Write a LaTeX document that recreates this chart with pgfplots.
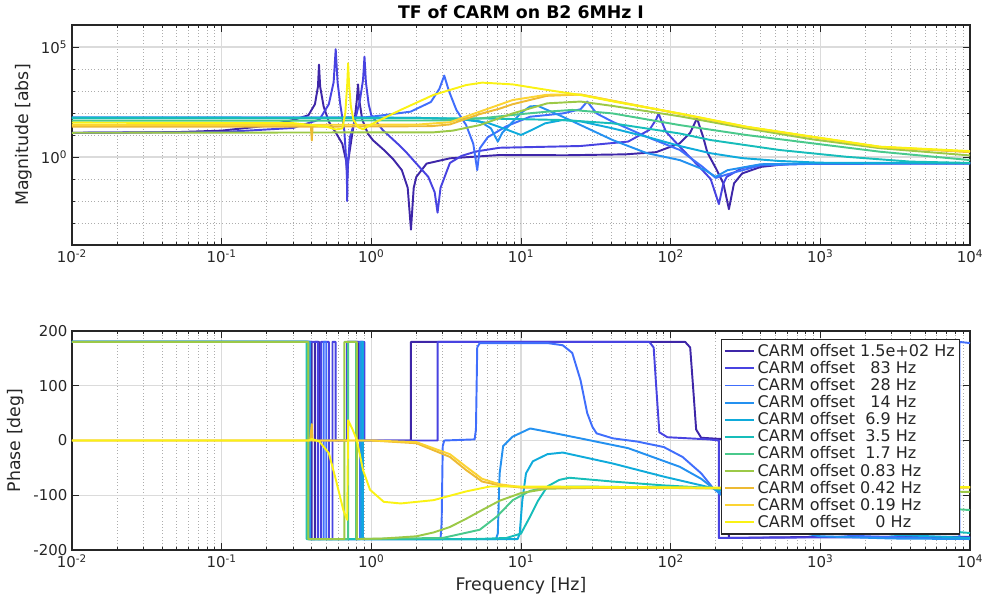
\documentclass[border=0pt]{standalone}
\usepackage{fontspec}
\setmainfont{DejaVu Sans}
\usepackage{pgfplots}
\pgfplotsset{compat=1.18}
\definecolor{cA}{rgb}{0.2422,0.1504,0.6603}
\definecolor{cB}{rgb}{0.2810,0.2630,0.8840}
\definecolor{cC}{rgb}{0.2500,0.4300,0.9900}
\definecolor{cD}{rgb}{0.1400,0.5700,0.9400}
\definecolor{cE}{rgb}{0.0600,0.6700,0.8600}
\definecolor{cF}{rgb}{0.0900,0.7400,0.7300}
\definecolor{cG}{rgb}{0.2900,0.7900,0.5500}
\definecolor{cH}{rgb}{0.6100,0.7900,0.2800}
\definecolor{cI}{rgb}{0.9300,0.7300,0.2000}
\definecolor{cJ}{rgb}{0.9900,0.8300,0.2000}
\definecolor{cK}{rgb}{0.9800,0.9500,0.0800}
\definecolor{axcol}{rgb}{0.15,0.15,0.15}
\pgfplotsset{
  every axis/.append style={
    scale only axis, width=673.5pt,
    xmin=1e-2, xmax=1e4,
    grid=both,
    major grid style={draw=black!14, line width=0.9pt},
    minor grid style={draw=black!32, dotted, line width=0.6pt},
    tick align=inside,
    major tick length=5pt, minor tick length=2.5pt,
    axis line style={draw=axcol, line width=0.9pt},
    tick style={draw=axcol, line width=0.6pt},
    ticklabel style={font=\fontsize{11.2}{13}\selectfont, text=axcol},
    label style={font=\fontsize{13}{15}\selectfont, text=axcol},
  },
  every axis plot post/.append style={line width=1.45pt, line join=round},
}
\begin{document}
\begin{tikzpicture}
\useasboundingbox (0,0) rectangle (738.75pt,449.25pt);
% ---------------- magnitude ----------------
\begin{axis}[xmode=log, ymode=log, at={(54pt,265.5pt)}, anchor=south west, height=165pt,
  xtick={1e-2,1e-1,1,1e1,1e2,1e3,1e4},
  xticklabels={10\textsuperscript{-2},10\textsuperscript{-1},10\textsuperscript{0},10\textsuperscript{1},10\textsuperscript{2},10\textsuperscript{3},10\textsuperscript{4}},
  minor xtick={0.02,0.03,0.04,0.05,0.06,0.07,0.08,0.09,0.2,0.3,0.4,0.5,0.6,0.7,0.8,0.9,2,3,4,5,6,7,8,9,20,30,40,50,60,70,80,90,200,300,400,500,600,700,800,900,2000,3000,4000,5000,6000,7000,8000,9000},
  ymin=1e-4, ymax=1e6,
  ytick={1,1e5}, yticklabels={10\textsuperscript{0},10\textsuperscript{5}},
  minor ytick={1e-3,1e-2,1e-1,1e1,1e2,1e3,1e4},
  ylabel={Magnitude [abs]},
  title={TF of CARM on B2 6MHz I},
  title style={font=\bfseries\fontsize{13}{15}\selectfont, text=black, yshift=-5pt},
]
\addplot[cA] coordinates {(0.01,12.6)(0.05,13.5)(0.1,15.8)(0.2,26.3)(0.3,47.9)(0.38,79.4)(0.42,251)(0.44,1585)(0.447,15850)(0.455,1585)(0.48,200)(0.52,39.8)(0.58,12.6)(0.64,3.98)(0.68,0.631)(0.69,0.1)(0.70,0.631)(0.74,7.94)(0.78,79.4)(0.80,398)(0.815,1995)(0.83,398)(0.87,50.1)(0.95,11.2)(1.03,5.62)(1.2,2.24)(1.4,0.794)(1.6,0.251)(1.75,0.0398)(1.84,0.000501)(1.92,0.0398)(2.0,0.126)(2.34,0.501)(3.35,0.871)(7.2,1.23)(20,1.20)(50,1.32)(80,1.66)(115,4.17)(135,12.6)(150,57.5)(165,7.94)(176,1.585)(200,0.316)(225,0.0631)(245,0.00427)(265,0.0631)(300,0.178)(400,0.355)(600,0.479)(1000,0.501)(10000,0.513)};
\addplot[cB] coordinates {(0.01,12.6)(0.1,13.5)(0.3,20.9)(0.45,50.1)(0.52,251)(0.56,2512)(0.578,79430)(0.595,2512)(0.62,251)(0.66,15.85)(0.685,0.316)(0.69,0.01)(0.695,0.316)(0.72,7.94)(0.78,50.1)(0.84,398)(0.88,3162)(0.90,36310)(0.92,2512)(0.96,251)(1.0,79.4)(1.19,17.0)(1.5,3.98)(1.73,1.51)(2.0,0.501)(2.4,0.126)(2.65,0.0251)(2.77,0.00295)(2.9,0.0398)(3.35,0.537)(4.0,1.12)(5.0,1.78)(7.2,2.63)(25,3.16)(52,5.01)(72,17.0)(80,50.1)(83,95.5)(86,50.1)(93,14.1)(115,2.95)(155,0.363)(185,0.1)(210,0.00724)(225,0.0631)(237,0.126)(300,0.316)(400,0.447)(1000,0.501)(10000,0.513)};
\addplot[cC] coordinates {(0.01,61.7)(0.38,61.7)(0.9,63.1)(1.08,72.4)(1.83,115)(2.5,316)(2.85,1259)(3.07,5012)(3.3,1000)(3.7,138)(4.3,28.2)(4.8,3.98)(5.1,0.251)(5.3,2.45)(6.0,7.94)(8.0,25.1)(11.5,67.6)(19,95.5)(25,148)(27.7,331)(32,95.5)(41,39.8)(69,8.32)(115,2.09)(160,0.398)(200,0.112)(250,0.178)(400,0.417)(1000,0.501)(10000,0.513)};
\addplot[cD] coordinates {(0.01,61.7)(1.0,61.7)(2.0,60.3)(4.0,52.5)(5.3,41.7)(6.3,20.0)(7.0,5.01)(7.5,12.6)(8.8,39.8)(10,100)(11.5,200)(13,209)(19,67.6)(41,5.89)(69,1.51)(115,0.724)(170,0.251)(200,0.126)(240,0.251)(400,0.468)(1000,0.513)(10000,0.525)};
\addplot[cE] coordinates {(0.01,61.7)(2.0,60.3)(4.0,52.5)(6.0,35.5)(8.0,17.8)(10,10.0)(12,17.8)(14.5,33.9)(19,47.9)(25,41.7)(41,20.0)(69,8.32)(115,3.16)(185,1.48)(300,0.891)(530,0.661)(1000,0.550)(10000,0.525)};
\addplot[cF] coordinates {(0.01,58.9)(5,57.5)(19,47.9)(41,33.9)(115,11.7)(185,5.89)(530,2.09)(1500,1.02)(4000,0.617)(10000,0.537)};
\addplot[cG] coordinates {(0.01,44.7)(3,45.7)(5.3,56.2)(10,89.1)(15,115)(22,138)(41,95.5)(115,28.2)(320,10.0)(890,4.17)(2500,1.74)(10000,0.724)};
\addplot[cH] coordinates {(0.01,12.6)(2.6,13.2)(3.5,15.8)(5.3,28.2)(8.8,95.5)(15,275)(25,331)(41,209)(115,70.8)(320,20.0)(890,6.31)(2500,2.51)(10000,1.175)};
\addplot[cI] coordinates {(0.01,24.0)(0.395,24.0)(0.40,5.62)(0.405,24.0)(2.5,25.1)(3.35,30.2)(5.3,89.1)(7.2,158)(8.8,251)(14.9,603)(25,692)(41,355)(115,91.2)(320,22.9)(890,7.94)(2500,2.82)(10000,1.66)};
\addplot[cJ] coordinates {(0.01,28.2)(2.0,29.5)(3.35,38.0)(5.3,115)(8.8,389)(14.9,676)(25,692)(41,363)(115,93.3)(320,23.4)(890,8.13)(2500,2.88)(10000,1.74)};
\addplot[cK] coordinates {(0.01,36.3)(0.3,34.7)(0.5,24.0)(0.58,17.8)(0.64,20.0)(0.67,100)(0.69,1995)(0.70,18200)(0.71,1995)(0.73,200)(0.76,47.9)(0.82,22.4)(0.88,18.2)(1.03,33.9)(1.57,138)(2.6,661)(4.3,1862)(5.5,2399)(8.8,1995)(14.9,1122)(24.8,661)(41.5,331)(115,95.5)(319,24.0)(893,8.32)(2500,2.95)(10000,1.86)};
\end{axis}
% ---------------- phase ----------------
\begin{axis}[xmode=log, at={(54pt,36.75pt)}, anchor=south west, height=164.25pt,
  xtick={1e-2,1e-1,1,1e1,1e2,1e3,1e4},
  xticklabels={10\textsuperscript{-2},10\textsuperscript{-1},10\textsuperscript{0},10\textsuperscript{1},10\textsuperscript{2},10\textsuperscript{3},10\textsuperscript{4}},
  minor xtick={0.02,0.03,0.04,0.05,0.06,0.07,0.08,0.09,0.2,0.3,0.4,0.5,0.6,0.7,0.8,0.9,2,3,4,5,6,7,8,9,20,30,40,50,60,70,80,90,200,300,400,500,600,700,800,900,2000,3000,4000,5000,6000,7000,8000,9000},
  ymin=-200, ymax=200,
  ytick={-200,-100,0,100,200}, yticklabels={-200,-100,0,100,200},
  ylabel={Phase [deg]}, xlabel={Frequency [Hz]},
  legend style={at={(0.9889,0.9635)}, anchor=north east, draw=axcol, line width=0.9pt,
    fill=white, font=\fontsize{12}{13}\selectfont, text=axcol, inner sep=1.5pt,
    row sep=-1.8pt, cells={anchor=west}},
  legend image code/.code={\draw[#1, line width=1.45pt] (0pt,0pt) -- (22pt,0pt);},
  legend cell align=left,
]
\addplot[cA] coordinates {(0.01,180)(0.40,180)(0.40,-180)(0.42,-180)(0.42,180)(0.447,180)(0.447,0)(0.69,0)(0.69,180)(0.815,180)(0.815,0)(1.84,0)(1.84,180)(125,180)(135,170)(141,100)(148,20)(160,5)(240,2)(245,-178)(1000,-176)(10000,-176)};
\addlegendentry{CARM offset 1.5e+02 Hz}
\addplot[cB] coordinates {(0.01,180)(0.44,180)(0.44,-180)(0.46,-180)(0.46,180)(0.52,180)(0.52,-180)(0.55,-180)(0.55,180)(0.578,180)(0.578,0)(0.69,0)(0.69,180)(0.90,180)(0.90,0)(2.77,0)(2.77,180)(72,180)(77,170)(80,100)(84,15)(95,6)(180,2)(210,0)(210,-178)(1000,-177)(10000,-177)};
\addlegendentry{CARM offset\ \ \ 83 Hz}
\addplot[cC] coordinates {(0.01,180)(0.385,180)(0.385,-180)(0.48,-180)(0.48,180)(0.50,180)(0.50,-180)(0.84,-180)(0.84,180)(0.86,180)(0.86,-180)(2.9,-180)(2.95,-150)(3.0,-10)(3.07,0)(4.9,2)(5.0,20)(5.1,170)(5.3,178)(15,178)(19,174)(22,160)(25,110)(27.7,50)(30,25)(32,13)(41,4)(60,-2)(90,-12)(120,-30)(160,-60)(192,-87)(300,-120)(500,-150)(1000,-168)(2000,-175)(8500,-180)(8500,180)(10000,178)};
\addlegendentry{CARM offset\ \ \ 28 Hz}
\addplot[cD] coordinates {(0.01,180)(0.39,180)(0.39,-180)(0.85,-180)(0.85,180)(0.88,180)(0.88,-180)(6.8,-180)(7.0,-170)(7.2,-60)(7.6,-10)(8.8,7)(11.5,22)(15,16)(24.8,4)(52,-14)(115,-48)(160,-70)(192,-87)(300,-130)(500,-160)(1000,-175)(3000,-179)(10000,-180)};
\addlegendentry{CARM offset\ \ \ 14 Hz}
\addplot[cE] coordinates {(0.01,180)(0.38,180)(0.38,-180)(0.87,-180)(0.87,180)(0.875,180)(0.875,-180)(9.5,-180)(9.8,-170)(10.2,-110)(10.8,-60)(12,-38)(15,-25)(19,-22)(41,-42)(90,-66)(192,-87)(500,-125)(1000,-150)(3000,-172)(10000,-178)};
\addlegendentry{CARM offset\ \ 6.9 Hz}
\addplot[cF] coordinates {(0.01,180)(0.37,180)(0.37,-180)(5,-180)(8,-178)(10,-170)(11.5,-139)(13,-110)(15,-84)(18,-72)(21,-68)(41,-75)(90,-82)(192,-87)(500,-105)(1000,-125)(2000,-145)(5000,-162)(10000,-169)};
\addlegendentry{CARM offset\ \ 3.5 Hz}
\addplot[cG] coordinates {(0.01,180)(0.375,180)(0.375,-180)(0.70,-180)(0.70,180)(0.79,180)(0.79,-180)(3,-178)(5.3,-163)(6.9,-139)(8.8,-109)(11.5,-92)(15,-85)(25,-84)(192,-87)(500,-95)(1000,-103)(2000,-112)(5000,-122)(10000,-127)};
\addlegendentry{CARM offset\ \ 1.7 Hz}
\addplot[cH] coordinates {(0.01,180)(0.38,180)(0.38,-180)(0.66,-180)(0.66,180)(0.80,180)(0.80,-180)(1.2,-179)(2.0,-175)(2.6,-168)(3.35,-158)(4.3,-143)(5.5,-127)(7.2,-110)(10,-96)(15,-88)(41,-86)(192,-87)(1000,-89)(3000,-91)(10000,-94)};
\addlegendentry{CARM offset 0.83 Hz}
\addplot[cI] coordinates {(0.01,0)(0.39,0)(0.40,30)(0.405,0)(1.0,0)(2.0,-5)(3.35,-30)(4.3,-54)(5.5,-75)(7.2,-82)(10,-86)(192,-87)(10000,-86)};
\addlegendentry{CARM offset 0.42 Hz}
\addplot[cJ] coordinates {(0.01,0)(1.0,0)(2.0,-3)(3.35,-25)(4.3,-48)(5.5,-70)(7.2,-80)(10,-85)(192,-87)(10000,-85)};
\addlegendentry{CARM offset 0.19 Hz}
\addplot[cK] coordinates {(0.01,0)(0.38,0)(0.40,3)(0.45,-2)(0.52,-23)(0.58,-72)(0.65,-127)(0.69,-145)(0.70,37)(0.75,20)(0.80,1)(0.88,-54)(0.98,-90)(1.21,-112)(1.57,-115)(2.6,-109)(4.3,-93)(6.2,-84)(10,-84)(192,-86)(10000,-85)};
\addlegendentry{CARM offset\ \ \ \ 0 Hz}
\end{axis}
\end{tikzpicture}
\end{document}
